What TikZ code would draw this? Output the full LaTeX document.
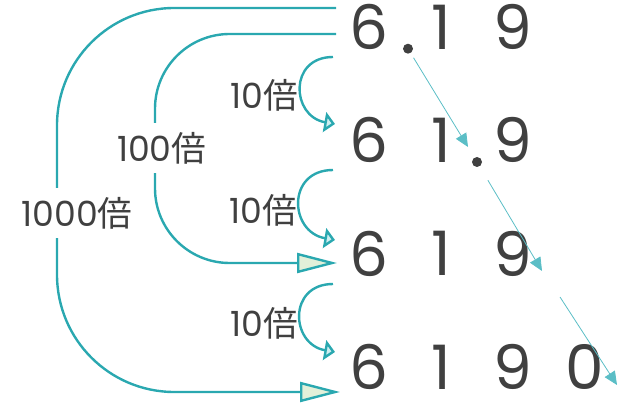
\documentclass[tikz,border=0pt]{standalone}
\usepackage{xcolor}
\usepackage{fontspec}
\usepackage{tikz}
\usetikzlibrary{arrows.meta,calc,positioning}
\setmainfont{Poppins}
\newfontfamily\cjk{Noto Sans CJK JP}
\definecolor{lineteal}{HTML}{2AA8B0}
\definecolor{pointblue}{HTML}{5BBEC6}
\definecolor{leafgreen}{HTML}{E2F0D9}
\definecolor{paleaqua}{HTML}{CFEFF1}
\definecolor{ink}{HTML}{404040}
\begin{document}
\begin{tikzpicture}[x=0.75pt,y=0.75pt,node distance = 54pt,inner sep=0pt,
  digit/.style={font=\fontsize{46}{50}\selectfont,text=ink},
  dot/.style={circle,fill=ink,minimum size=7.5pt},
  tag/.style={font=\fontsize{26}{30}\selectfont,text=ink},
  gap/.style={tag,fill=white,sharp corners,inner xsep=2pt,inner ysep=7pt},
  hop/.style={draw=lineteal,line width=1.8pt},
  big/.style={hop,-{Triangle[length=30pt,width=15pt,fill=leafgreen]}},
  small/.style={hop,-{Triangle[length=8pt,width=15pt,fill=paleaqua]}},
  slide/.style={draw=pointblue,line width=0.6pt,-{Triangle[length=10pt,width=9pt]}}]
\useasboundingbox (0,0) rectangle (634,403);
\node[digit] (A) at (369,376) {6};
\node[digit] (B) [right of = A] {1};
\node[digit] (C) [right of = B] {9};
\node[digit] (D) [below of = A,node distance = 85pt] {6};
\node[digit] (E) [right of = D] {1};
\node[digit] (F) [right of = E] {9};
\node[digit] (G) [below of = D,node distance = 85pt] {6};
\node[digit] (H) [right of = G] {1};
\node[digit] (I) [right of = H] {9};
\node[digit] (J) [below of = G,node distance = 85pt] {6};
\node[digit] (K) [right of = J] {1};
\node[digit] (L) [right of = K] {9};
\node[digit] (M) [right of = L] {0};
\node[dot] (P) at ($(A.south)!0.5!(B.south)+(3,1)$) {};
\node[dot] (Q) at ($(E.south)!0.5!(F.south)+(0,1)$) {};
\coordinate (R) at ($(Q)+(-9,15)$);
\coordinate (S) at (542,132);
\coordinate (T) at (560,106);
\coordinate (U) at (617,18);
\path (P) edge [slide,shorten <=4pt] (R);
\path (Q) edge [slide,shorten <=12pt] (S);
\path (T) edge [slide] (U);
\coordinate (a1) at (333,346);
\coordinate (b1) at (335,279);
\coordinate (a2) at (333,233);
\coordinate (b2) at (335,163);
\coordinate (a3) at (333,119);
\coordinate (b3) at (335,51);
\path (a1) edge [small,out=180,in=170,looseness=1.7] node[tag,left=1pt,yshift=-6pt] {10\cjk 倍} (b1);
\path (a2) edge [small,out=180,in=170,looseness=1.7] node[tag,left=1pt,yshift=-6pt] {10\cjk 倍} (b2);
\path (a3) edge [small,out=180,in=170,looseness=1.7] node[tag,left=1pt,yshift=-6pt] {10\cjk 倍} (b3);
\coordinate (s1) at (336,395);
\coordinate (c1) at (57,395);
\coordinate (d1) at (57,11);
\coordinate (e1) at (340,11);
\draw[big,rounded corners=88pt] (s1) -- (c1) -- node[gap,pos=0.534,xshift=15pt] {1000\cjk 倍} (d1) -- (e1);
\coordinate (s2) at (336,369);
\coordinate (c2) at (155,369);
\coordinate (d2) at (155,140);
\coordinate (e2) at (337,140);
\draw[big,rounded corners=56pt] (s2) -- (c2) -- node[gap,pos=0.498,xshift=5pt] {100\cjk 倍} (d2) -- (e2);
\end{tikzpicture}
\end{document}
